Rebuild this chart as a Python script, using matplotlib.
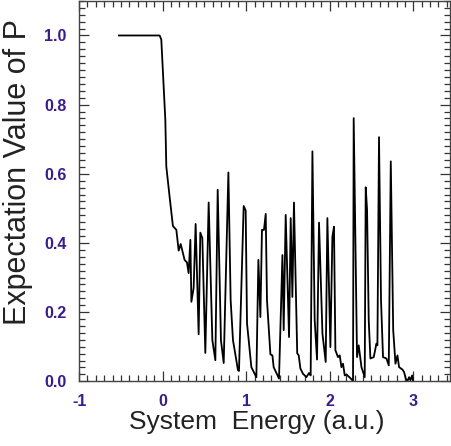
import matplotlib
matplotlib.use("Agg")

import matplotlib.pyplot as plt
from matplotlib.ticker import MultipleLocator

energy = [
    -0.523, -0.036, -0.016, 0.032, 0.044, 0.085, 0.123, 0.164, 0.192, 0.216,
    0.263, 0.291, 0.311, 0.332, 0.344, 0.371, 0.395, 0.431, 0.451, 0.475,
    0.511, 0.551, 0.595, 0.631, 0.659, 0.698, 0.731, 0.787, 0.814, 0.842,
    0.902, 0.914, 0.970, 0.994, 1.010, 1.062, 1.122, 1.146, 1.170, 1.189,
    1.213, 1.234, 1.249, 1.290, 1.314, 1.329, 1.393, 1.434, 1.449, 1.473,
    1.513, 1.533, 1.553, 1.572, 1.611, 1.629, 1.649, 1.680, 1.721, 1.752,
    1.772, 1.793, 1.820, 1.848, 1.872, 1.913, 1.952, 1.972, 2.008, 2.032,
    2.051, 2.068, 2.099, 2.120, 2.140, 2.159, 2.180, 2.200, 2.240, 2.279,
    2.287, 2.327, 2.347, 2.380, 2.419, 2.431, 2.447, 2.467, 2.487, 2.527,
    2.559, 2.571, 2.590, 2.614, 2.638, 2.679, 2.707, 2.731, 2.760, 2.787,
    2.811, 2.830, 2.871, 2.890, 2.910, 2.931, 2.950, 2.966, 2.986, 2.998,
]
expectation = [
    1.000, 1.000, 0.988, 0.757, 0.621, 0.530, 0.449, 0.438, 0.378, 0.397,
    0.351, 0.344, 0.313, 0.409, 0.230, 0.270, 0.455, 0.136, 0.430, 0.414,
    0.082, 0.517, 0.119, 0.061, 0.554, 0.119, 0.053, 0.604, 0.235, 0.119,
    0.032, 0.030, 0.507, 0.494, 0.168, 0.041, 0.012, 0.351, 0.186, 0.438,
    0.438, 0.484, 0.235, 0.078, 0.075, 0.041, 0.008, 0.365, 0.148, 0.481,
    0.128, 0.472, 0.244, 0.517, 0.081, 0.075, 0.037, 0.022, 0.012, 0.024,
    0.017, 0.665, 0.177, 0.063, 0.459, 0.138, 0.056, 0.472, 0.099, 0.418,
    0.447, 0.090, 0.070, 0.075, 0.041, 0.051, 0.017, 0.020, 0.011, 0.001,
    0.761, 0.070, 0.104, 0.041, 0.012, 0.561, 0.496, 0.177, 0.066, 0.070,
    0.109, 0.104, 0.706, 0.235, 0.070, 0.066, 0.046, 0.636, 0.148, 0.051,
    0.075, 0.041, 0.034, 0.027, 0.008, 0.001, 0.012, 0.003, 0.017, 0.001,
]

x_ticks = [-1, 0, 1, 2, 3]
x_tick_labels = ["-1", "0", "1", "2", "3"]
y_ticks = [0.0, 0.2, 0.4, 0.6, 0.8, 1.0]
y_tick_labels = ["0.0", "0.2", "0.4", "0.6", "0.8", "1.0"]

TICK_COLOR = "#3a1c8c"

plt.rcParams["font.family"] = ["Liberation Sans", "DejaVu Sans"]

fig = plt.figure(figsize=(4.52, 4.46), dpi=100)
ax = fig.add_axes([0.175, 0.145, 0.8206, 0.853])

ax.plot(energy, expectation, color="black", linewidth=1.3)

ax.set_xlim(-1, 3.44)
ax.set_ylim(0, 1.1)
ax.set_xticks(x_ticks)
ax.set_xticklabels(x_tick_labels)
ax.set_yticks(y_ticks)
ax.set_yticklabels(y_tick_labels)
ax.xaxis.set_minor_locator(MultipleLocator(0.1))
ax.yaxis.set_minor_locator(MultipleLocator(0.02))

ax.tick_params(which="both", direction="in", top=True, right=True,
               color="#333333", width=0.9)
ax.tick_params(which="major", length=7)
ax.tick_params(which="minor", length=4)
ax.tick_params(axis="x", which="major", pad=9)
ax.tick_params(axis="y", which="major", pad=9)
for lab in ax.get_xticklabels() + ax.get_yticklabels():
    lab.set_color(TICK_COLOR)
    lab.set_fontweight("bold")
    lab.set_fontsize(11.5)

for sp in ax.spines.values():
    sp.set_color("#444444")
    sp.set_linewidth(1.0)

ax.set_xlabel("System  Energy (a.u.)", fontsize=19, color="#222222")
ax.set_ylabel("Expectation Value of P", fontsize=22, color="#222222")
ax.xaxis.set_label_coords(0.478, -0.075)
ax.yaxis.set_label_coords(-0.123, 0.551)

fig.savefig("out.png", dpi=100)
plt.close(fig)
